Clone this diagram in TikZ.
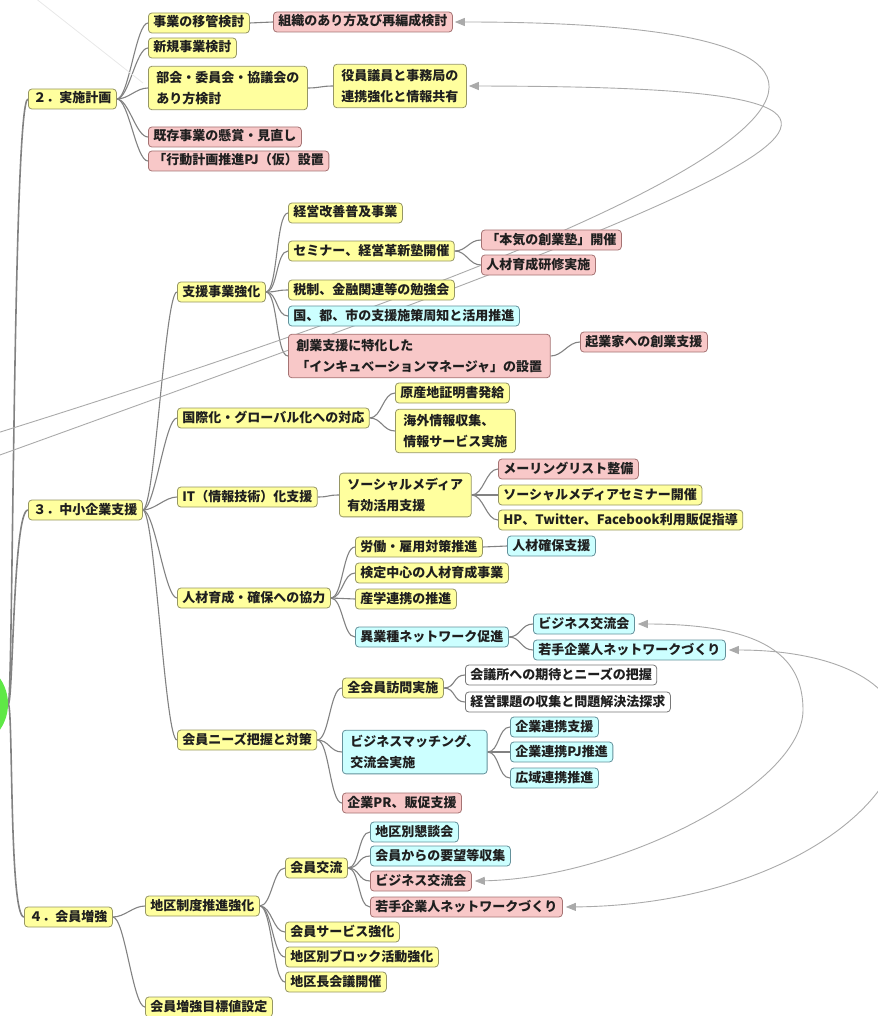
\documentclass[tikz,border=0pt]{standalone}
\usepackage{fontspec}
\setmainfont{Noto Sans CJK JP}
\usetikzlibrary{arrows.meta,calc}
\pgfdeclarelayer{bg}
\pgfsetlayers{bg,main}

\definecolor{ylw}{RGB}{255,255,158}
\definecolor{ylwline}{RGB}{150,150,100}
\definecolor{pnk}{RGB}{248,200,200}
\definecolor{pnkline}{RGB}{165,115,115}
\definecolor{cyn}{RGB}{204,255,255}
\definecolor{cynline}{RGB}{100,145,155}
\definecolor{wline}{RGB}{120,120,120}
\definecolor{branch}{RGB}{130,130,130}
\definecolor{xlink}{RGB}{170,170,170}
\definecolor{faintgray}{RGB}{232,232,232}
\definecolor{rootgreen}{RGB}{95,232,70}

\tikzset{
  box/.style={draw, rounded corners=3.5pt, line width=0.8pt, anchor=west,
    font=\fontsize{13}{21}\selectfont\bfseries, text=black!88, align=left},
  sgl/.style={box, inner xsep=5pt, inner ysep=3.5pt, text height=10.5pt, text depth=2.5pt},
  dbl/.style={box, inner xsep=8pt, inner ysep=5pt},
  ybox/.style={fill=ylw, draw=ylwline},
  pbox/.style={fill=pnk, draw=pnkline},
  cbox/.style={fill=cyn, draw=cynline},
  wbox/.style={fill=white, draw=wline},
  br/.style={to path={.. controls ([xshift=#1]\tikztostart) and ([xshift=-#1]\tikztotarget) .. (\tikztotarget)}},
  br/.default=12pt,
  tree/.style={draw=branch, line width=1.1pt},
  rootlink/.style={draw=branch, line width=1.6pt},
  xl/.style={draw=xlink, line width=0.9pt},
  tipend/.style={-{Triangle[length=10pt,width=8pt]}},
  tipboth/.style={{Triangle[length=10pt,width=8pt]}-{Triangle[length=10pt,width=8pt]}},
  faint/.style={draw=faintgray, line width=0.8pt},
}

\begin{document}
\begin{tikzpicture}[x=1pt,y=-1pt]
\useasboundingbox (0,0) rectangle (877,1016);
\clip (0,0) rectangle (877,1016);

% central topic, mostly beyond the left edge
\node[circle, fill=rootgreen, minimum size=90pt, inner sep=0pt] (root) at (-37,704) {};

% main branches
\node[sgl,ybox] (n2) at (28,99) {２．実施計画};
\node[sgl,ybox] (n3) at (28,510) {３．中小企業支援};
\node[sgl,ybox] (n4) at (24,917) {４．会員増強};

% 2. 実施計画
\node[sgl,ybox] (a1) at (148,23) {事業の移管検討};
\node[sgl,ybox] (a2) at (148,48) {新規事業検討};
\node[dbl,ybox] (a3) at (148,88) {部会・委員会・協議会の\\あり方検討};
\node[sgl,pbox] (a4) at (148,137) {既存事業の懸賞・見直し};
\node[sgl,pbox] (a5) at (148,161) {「行動計画推進PJ（仮）設置};
\node[sgl,pbox] (b1) at (273,22) {組織のあり方及び再編成検討};
\node[dbl,ybox] (b3) at (333,86) {役員議員と事務局の\\連携強化と情報共有};

% 3. 中小企業支援
\node[sgl,ybox] (c1) at (177,292) {支援事業強化};
\node[sgl,ybox] (c2) at (177,418) {国際化・グローバル化への対応};
\node[sgl,ybox] (c3) at (177,497) {IT（情報技術）化支援};
\node[sgl,ybox] (c4) at (177,598) {人材育成・確保への協力};
\node[sgl,ybox] (c5) at (177,740) {会員ニーズ把握と対策};

\node[sgl,ybox] (d1) at (288,213) {経営改善普及事業};
\node[sgl,ybox] (d2) at (288,251) {セミナー、経営革新塾開催};
\node[sgl,ybox] (d3) at (288,290) {税制、金融関連等の勉強会};
\node[sgl,cbox] (d4) at (288,316) {国、都、市の支援施策周知と活用推進};
\node[dbl,pbox] (d5) at (288,356) {創業支援に特化した\\「インキュベーションマネージャ」の設置};
\node[sgl,pbox] (e1) at (481,240) {「本気の創業塾」開催};
\node[sgl,pbox] (e2) at (481,265) {人材育成研修実施};
\node[sgl,pbox] (e3) at (580,342) {起業家への創業支援};

\node[sgl,ybox] (f1) at (395,393) {原産地証明書発給};
\node[dbl,ybox] (f2) at (395,431) {海外情報収集、\\情報サービス実施};

\node[dbl,ybox] (g1) at (339,495) {ソーシャルメディア\\有効活用支援};
\node[sgl,pbox] (h1) at (498,469) {メーリングリスト整備};
\node[sgl,ybox] (h2) at (498,495) {ソーシャルメディアセミナー開催};
\node[sgl,ybox] (h3) at (498,520) {HP、Twitter、Facebook利用販促指導};

\node[sgl,ybox] (i1) at (355,547) {労働・雇用対策推進};
\node[sgl,cbox] (j1) at (507,546) {人材確保支援};
\node[sgl,ybox] (i2) at (355,573) {検定中心の人材育成事業};
\node[sgl,ybox] (i3) at (355,599) {産学連携の推進};
\node[sgl,cbox] (i4) at (355,637) {異業種ネットワーク促進};
\node[sgl,cbox] (k1) at (533,624) {ビジネス交流会};
\node[sgl,cbox] (k2) at (533,650) {若手企業人ネットワークづくり};

\node[sgl,ybox] (l1) at (342,688) {全会員訪問実施};
\node[sgl,wbox] (m1) at (465,675) {会議所への期待とニーズの把握};
\node[sgl,wbox] (m2) at (465,702) {経営課題の収集と問題解決法探求};
\node[dbl,cbox] (l2) at (342,752) {ビジネスマッチング、\\交流会実施};
\node[sgl,cbox] (o1) at (510,727) {企業連携支援};
\node[sgl,cbox] (o2) at (510,752) {企業連携PJ推進};
\node[sgl,cbox] (o3) at (510,778) {広域連携推進};
\node[sgl,pbox] (l3) at (342,803) {企業PR、販促支援};

% 4. 会員増強
\node[sgl,ybox] (p1) at (145,906) {地区制度推進強化};
\node[sgl,ybox] (p2) at (145,1007) {会員増強目標値設定};
\node[sgl,ybox] (q1) at (285,868) {会員交流};
\node[sgl,cbox] (r1) at (370,832) {地区別懇談会};
\node[sgl,cbox] (r2) at (370,856) {会員からの要望等収集};
\node[sgl,pbox] (r3) at (370,881) {ビジネス交流会};
\node[sgl,pbox] (r4) at (370,907) {若手企業人ネットワークづくり};
\node[sgl,ybox] (q2) at (285,932) {会員サービス強化};
\node[sgl,ybox] (q3) at (285,957) {地区別ブロック活動強化};
\node[sgl,ybox] (q4) at (285,982) {地区長会議開催};

% free ends of links that come from beyond the frame
\coordinate (s1) at (-150,478);
\coordinate (s2) at (-150,509);
\coordinate (f0) at (30,-6);

\begin{pgfonlayer}{bg}
  % branches from the central topic
  \foreach \c in {n2,n3,n4}
    \draw[rootlink] (root.east) .. controls +(5,0) and +(-15,0) .. (\c.west);
  % tree branches
  \foreach \p/\c in {n2/a1,n2/a2,n2/a3,n2/a4,n2/a5,a1/b1,a3/b3,
      n3/c1,n3/c2,n3/c3,n3/c4,n3/c5,
      c1/d1,c1/d2,c1/d3,c1/d4,c1/d5,d2/e1,d2/e2,d5/e3,
      c2/f1,c2/f2,c3/g1,g1/h1,g1/h2,g1/h3,
      c4/i1,c4/i2,c4/i3,c4/i4,i1/j1,i4/k1,i4/k2,
      c5/l1,c5/l2,c5/l3,l1/m1,l1/m2,l2/o1,l2/o2,l2/o3,
      n4/p1,n4/p2,p1/q1,p1/q2,p1/q3,p1/q4,q1/r1,q1/r2,q1/r3,q1/r4}
    \draw[tree] (\p.east) to[br] (\c.west);

  % cross links
  \draw[faint] (f0) -- ([xshift=-5pt,yshift=5pt]a3.west);
  \draw[xl,tipend] (s1) .. controls (850,178) and (1000,22) .. ([xshift=2pt]b1.east);
  \draw[xl,tipend] (s2) .. controls (850,149) and (1020,87) .. ([xshift=2pt]b3.east);
  \draw[xl,tipboth] ([xshift=3pt]k1.east) .. controls (770,624) and (803,660) .. (803,710)
      .. controls (803,785) and (620,878) .. ([xshift=3pt]r3.east);
  \draw[xl,tipboth] ([xshift=3pt]k2.east) .. controls (830,650) and (900,680) .. (900,735)
      .. controls (900,810) and (770,905) .. ([xshift=3pt]r4.east);
\end{pgfonlayer}
\end{tikzpicture}
\end{document}
